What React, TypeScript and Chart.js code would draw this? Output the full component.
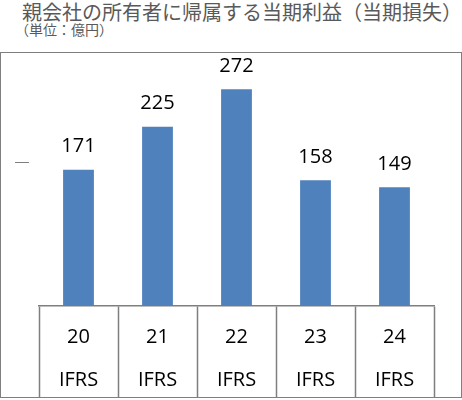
import { useEffect, useRef } from "react";
import { Chart, registerables } from "chart.js";
import type { ChartConfiguration, Plugin } from "chart.js";

Chart.register(...registerables);

const years = ["20", "21", "22", "23", "24"];
const standards = ["IFRS", "IFRS", "IFRS", "IFRS", "IFRS"];
const profit = [171, 225, 272, 158, 149];
const yTickMarks = [180];

const LINE = "#7f7f7f";
const FONT = "'Open Sans', 'Noto Sans', sans-serif";

// value labels above the bars + the two-row category table under the axis
const labelsPlugin: Plugin<"bar"> = {
  id: "labels",
  afterDatasetsDraw(chart) {
    const { ctx, chartArea } = chart;
    const meta = chart.getDatasetMeta(0);
    const xScale = chart.scales.x;
    ctx.save();
    ctx.fillStyle = "#000";
    ctx.textAlign = "center";
    ctx.textBaseline = "middle";
    ctx.font = `20px ${FONT}`;
    meta.data.forEach((bar, i) => {
      ctx.fillText(String(profit[i]), bar.x, bar.y - 23);
    });
    years.forEach((y, i) => {
      const x = xScale.getPixelForValue(i);
      ctx.fillText(y, x, chartArea.bottom + 31);
      ctx.fillText(standards[i], x, chartArea.bottom + 74);
    });
    ctx.restore();
  },
};

const ProfitChart = () => {
  const canvasRef = useRef<HTMLCanvasElement | null>(null);
  const chartRef = useRef<Chart<"bar", number[], string> | null>(null);

  useEffect(() => {
    if (!canvasRef.current) return;
    chartRef.current?.destroy();

    const config: ChartConfiguration<"bar", number[], string> = {
      type: "bar",
      data: {
        labels: years,
        datasets: [
          {
            data: profit,
            backgroundColor: "#4f81bd",
            borderWidth: 0,
            categoryPercentage: 1,
            barPercentage: 0.39,
          },
        ],
      },
      options: {
        animation: false,
        responsive: true,
        maintainAspectRatio: false,
        layout: { padding: { left: 15, right: 28, top: 15, bottom: 0 } },
        plugins: { legend: { display: false }, tooltip: { enabled: false } },
        scales: {
          x: {
            grid: {
              offset: true,
              drawOnChartArea: false,
              drawTicks: true,
              tickLength: 91,
              tickColor: LINE,
              tickWidth: 1.5,
            },
            border: { display: true, color: LINE, width: 1.5 },
            ticks: { display: false },
          },
          y: {
            min: 0,
            max: 300,
            afterBuildTicks: (axis) => {
              axis.ticks = yTickMarks.map((v) => ({ value: v }));
            },
            grid: {
              drawOnChartArea: false,
              drawTicks: true,
              tickLength: 24,
              tickColor: LINE,
              tickWidth: 1,
              tickBorderDash: [14, 40],
            },
            border: { display: false },
            ticks: { display: false },
          },
        },
      },
      plugins: [labelsPlugin],
    };

    chartRef.current = new Chart(canvasRef.current, config);
    return () => chartRef.current?.destroy();
  }, []);

  return <canvas ref={canvasRef} />;
};

export default function App() {
  return (
    <div style={{ position: "fixed", left: 0, top: 0, width: 462, height: 400, background: "#fff", overflow: "hidden" }}>
      <div
        style={{
          position: "absolute",
          left: 22,
          top: 0,
          fontFamily: "'Noto Sans CJK JP', sans-serif",
          fontSize: 20,
          lineHeight: "23px",
          color: "#595959",
          whiteSpace: "nowrap",
        }}
      >
        親会社の所有者に帰属する当期利益（当期損失）
      </div>
      <div
        style={{
          position: "absolute",
          left: 15,
          top: 21,
          fontFamily: "'Noto Sans CJK JP', sans-serif",
          fontSize: 14,
          lineHeight: "16px",
          color: "#595959",
          whiteSpace: "nowrap",
        }}
      >
        （単位：億円）
      </div>
      <div
        style={{
          position: "absolute",
          left: 0,
          top: 52,
          width: 462,
          height: 346,
          boxSizing: "border-box",
          border: `1.5px solid ${LINE}`,
        }}
      />
      <div style={{ position: "absolute", left: 0, top: 52, width: 462, height: 345 }}>
        <ProfitChart />
      </div>
    </div>
  );
}
